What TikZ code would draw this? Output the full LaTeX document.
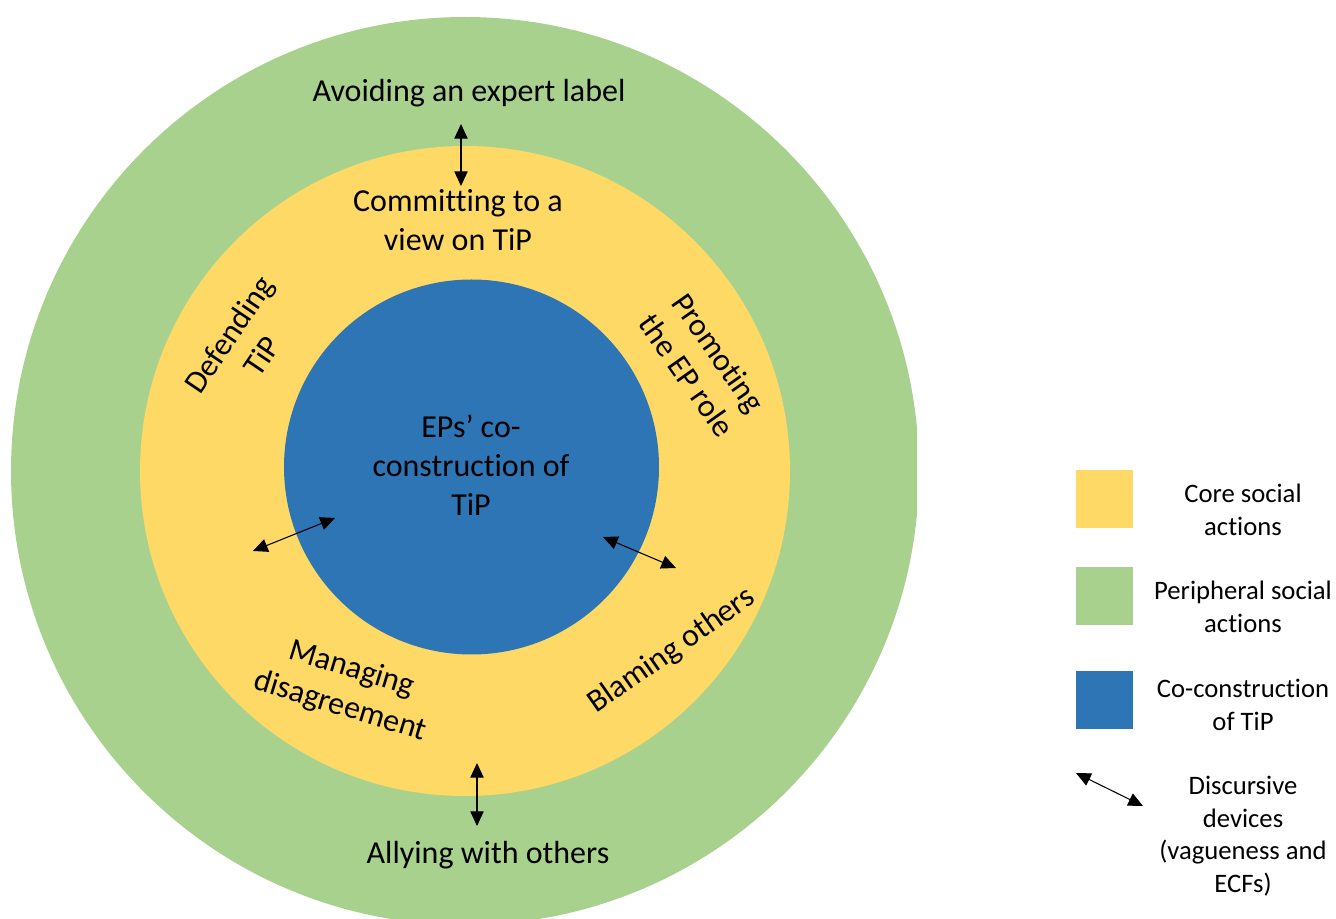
\documentclass[tikz,border=0pt]{standalone}
\usepackage{fontspec}
\setmainfont[Ligatures=NoCommon]{Carlito}
\usetikzlibrary{arrows.meta}
\definecolor{ringgreen}{HTML}{A9D18E}
\definecolor{ringyellow}{HTML}{FFD966}
\definecolor{coreblue}{HTML}{2E75B6}
\tikzset{
  lbl/.style={font=\fontsize{24}{29.3}\selectfont, align=center, inner sep=0pt},
  keytext/.style={font=\fontsize{20}{24.4}\selectfont, align=center, inner sep=0pt},
  dev/.style={{Triangle[length=11pt,width=10pt]}-{Triangle[length=11pt,width=10pt]}, line width=0.8pt},
  swatch/.style={minimum width=42.75pt, minimum height=43.5pt, inner sep=0pt}
}
\begin{document}
\begin{tikzpicture}[x=0.75pt,y=-0.75pt]
\useasboundingbox (0,0) rectangle (1336,919);
% rings
\begin{scope}
\clip (0,0) rectangle (917,919);
\fill[ringgreen] (465,471) circle (454);
\end{scope}
\fill[ringyellow] (465,471) circle (325);
\fill[coreblue] (471.5,467) circle (187.5);
% labels
\node[lbl] (avoid) at (469,93) {Avoiding an expert label};
\node[lbl] (commit) at (458,220) {Committing to a\\view on TiP};
\node[lbl] (core) at (471,465) {EPs’ co-\\construction of\\TiP};
\node[lbl, rotate=56] (defend) at (245,345) {Defending\\TiP};
\node[lbl, rotate=-55] (promote) at (703,364) {Promoting\\the EP role};
\node[lbl, rotate=-17] (manage) at (346,688) {Managing\\disagreement};
\node[lbl, rotate=35] (blame) at (672,651) {Blaming others};
\node[lbl] (ally) at (488,855) {Allying with others};
% discursive devices
\coordinate (avoidEnd) at (461,124);
\coordinate (commitEnd) at (461,186);
\coordinate (allyEnd) at (477,826);
\coordinate (manageEnd) at (477,763);
\coordinate (defendEnd) at (253,551);
\coordinate (coreLeft) at (335,518);
\coordinate (coreRight) at (603,537);
\coordinate (blameEnd) at (676,568);
\draw[dev] (avoidEnd) -- (commitEnd);
\draw[dev] (manageEnd) -- (allyEnd);
\draw[dev] (defendEnd) -- (coreLeft);
\draw[dev] (coreRight) -- (blameEnd);
% legend
\node[swatch, fill=ringyellow] (keycore) at (1104.5,499) {};
\node[swatch, fill=ringgreen] (keyperi) at (1104.5,596) {};
\node[swatch, fill=coreblue] (keyblue) at (1104.5,700) {};
\coordinate (keyA) at (1076,773);
\coordinate (keyB) at (1143,806);
\draw[dev] (keyA) -- (keyB);
\node[keytext] (keycoretxt) at (1243,510) {Core social\\actions};
\node[keytext] (keyperitxt) at (1243,607) {Peripheral social\\actions};
\node[keytext] (keybluetxt) at (1243,705) {Co-construction\\of TiP};
\node[keytext] (keydevtxt) at (1243,836) {Discursive\\devices\\(vagueness and\\ECFs)};
\end{tikzpicture}
\end{document}
